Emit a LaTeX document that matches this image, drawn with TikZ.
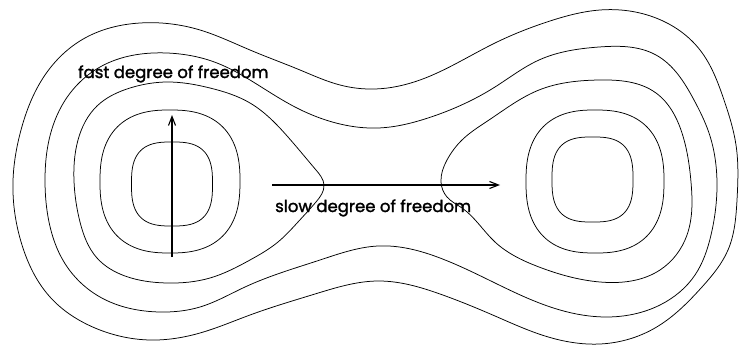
\documentclass[tikz,border=0pt]{standalone}
\usepackage{fontspec}
\newfontfamily\dofont{Poppins}[FakeBold=1.6]
\usetikzlibrary{arrows.meta, hobby}

\begin{document}
\begin{tikzpicture}[
    x=1pt, y=-1pt,
    level/.style={line width=0.75pt},
    dof/.style={-{Straight Barb[length=9pt, width=7pt, line width=1.1pt]}, line width=1.4pt},
    label/.style={anchor=base west, inner sep=0pt, font=\dofont\fontsize{16.5}{16.5}\selectfont}
]
	\useasboundingbox (0,0) rectangle (739,345);

	\draw [level] plot [domain=1:361, samples=73, smooth cycle] ({172+40.5*sign(cos(\x))*abs(cos(\x))^0.7}, {184+42*sign(sin(\x))*abs(sin(\x))^0.7});
	\draw [level] plot [domain=1:361, samples=73, smooth cycle] ({592.5+40.5*sign(cos(\x))*abs(cos(\x))^0.7}, {179.5+42.5*sign(sin(\x))*abs(sin(\x))^0.7});

	\draw [level] plot [domain=1:361, samples=73, smooth cycle] ({170+70*sign(cos(\x))*abs(cos(\x))^0.8}, {181.5+71.5*sign(sin(\x))*abs(sin(\x))^0.8});
	\draw [level] plot [domain=1:361, samples=73, smooth cycle] ({595+69*sign(cos(\x))*abs(cos(\x))^0.8}, {181.5+71.5*sign(sin(\x))*abs(sin(\x))^0.8});

	\draw [level] plot [closed hobby] coordinates {(74,181) (78,140) (97,106) (130,88) (167,82) (210,88) (250,103) (288,137) (316,170) (324,185) (316,202) (298,222) (278,242) (250,260) (210,278) (167,283) (125,276) (97,258) (80,222)};
	\draw [level] plot [closed hobby] coordinates {(441,182) (447,160) (462,140) (489,120) (539,90) (599,80) (656,93) (682,133) (691,182) (687,235) (660,270) (600,282) (539,267) (495,242) (462,208) (447,197)};

	\draw [level] plot [closed hobby] coordinates {(45,181) (49,140) (64,102) (100,67) (167,53) (217,63) (250,80) (295,107) (340,124) (378,128) (428,118) (495,87) (539,60) (599,47) (656,55) (694,100) (709,133) (717,183) (711,235) (695,275) (660,305) (606,317) (560,310) (495,283) (440,258) (378,246) (320,260) (245,287) (200,307) (160,312) (100,297) (64,262) (49,222)};
	\draw [level] plot [closed hobby] coordinates {(13,181) (21,130) (45,75) (85,38) (140,23) (200,30) (250,50) (300,70) (340,85) (375,89) (420,80) (495,43) (550,21) (600,10) (656,18) (700,50) (724,100) (736,145) (737,200) (728,250) (702,287) (655,328) (600,344) (545,336) (495,316) (440,294) (378,281) (315,294) (250,315) (200,333) (150,340) (95,328) (50,297) (22,245)};

	\coordinate (fastfrom) at (172,257);
	\coordinate (fastto) at (172,115);
	\coordinate (slowfrom) at (272,185);
	\coordinate (slowto) at (500,185);
	\draw [dof] (fastfrom) -- (fastto);
	\draw [dof] (slowfrom) -- (slowto);

	\node [label] (fastlabel) at (78,78) {fast degree of freedom};
	\node [label] (slowlabel) at (275,212) {slow degree of freedom};
\end{tikzpicture}
\end{document}
